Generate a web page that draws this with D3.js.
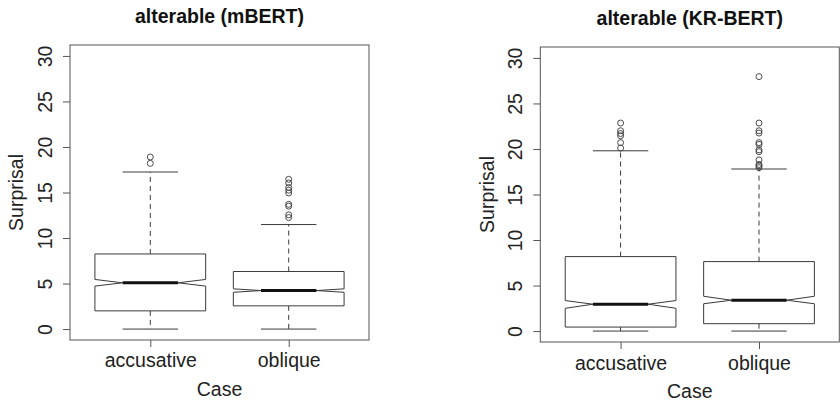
<!DOCTYPE html>
<html>
<head>
<meta charset="utf-8">
<script src="https://cdn.jsdelivr.net/npm/d3@7"></script>
<style>
body { margin: 0; background: #fff; }
text { font-family: "Liberation Sans", Arial, sans-serif; fill: #222; }
</style>
</head>
<body>
<div id="chart"></div>
<script>
// values
var titles = ["alterable (mBERT)", "alterable (KR-BERT)"];
var categories = ["accusative", "oblique"];
var yTicks = [0, 5, 10, 15, 20, 25, 30];

// [lower whisker, Q1, median, Q3, upper whisker]
var mbertStats = [[0, 2.0, 5.08, 8.25, 17.25], [0, 2.55, 4.23, 6.32, 11.48]];
var mbertNotch = [[4.72, 5.45], [4.04, 4.42]];
var mbertOutliers = [[18.2, 18.9], [12.25, 12.55, 13.5, 13.7, 14.95, 15.25, 15.55, 16.05, 16.45]];

var krStats = [[0, 0.44, 2.95, 8.18, 19.8], [0, 0.81, 3.39, 7.63, 17.8]];
var krNotch = [[2.5, 3.35], [3.0, 3.82]];
var krOutliers = [[20.1, 20.7, 21.45, 21.7, 22.0, 22.85],
  [17.95, 18.15, 18.3, 18.8, 19.7, 19.9, 20.5, 20.7, 21.75, 22.0, 22.85, 27.95]];

var W = 840, H = 402;
var fs = "19.5px";
var svg = d3.select("#chart").append("svg").attr("width", W).attr("height", H);

function panel(p) {
  var left = p.left, right = p.left + 299, top = p.top, bottom = p.top + 295;
  var x = d3.scaleLinear().domain([0.42, 2.58]).range([left, right]);
  var y = d3.scaleLinear().domain([-1.2, 31.2]).range([bottom, top]);
  var g = svg.append("g");
  var ink = "#3a3a3a";

  // y axis
  var ya = g.append("g").attr("transform", "translate(" + left + ",0)")
    .call(d3.axisLeft(y).tickValues(yTicks).tickSize(7).tickFormat(d3.format("d")));
  ya.select(".domain").remove();
  ya.selectAll("line").attr("stroke", "#555");
  ya.selectAll("text")
    .attr("x", 0).attr("y", 0).attr("dy", "0.36em")
    .attr("transform", "translate(-25,0) rotate(-90)")
    .attr("text-anchor", "middle")
    .style("font-size", fs).style("fill", "#222");

  // x axis
  var xa = g.append("g").attr("transform", "translate(0," + bottom + ")")
    .call(d3.axisBottom(x).tickValues([1, 2]).tickSize(7)
      .tickFormat(function(d) { return categories[d - 1]; }));
  xa.select(".domain").remove();
  xa.selectAll("line").attr("stroke", "#555");
  xa.selectAll("text").attr("y", 0).attr("dy", 0)
    .attr("transform", "translate(0," + (p.xlab - bottom) + ")")
    .style("font-size", fs).style("fill", "#222");

  // frame
  g.append("rect").attr("x", left).attr("y", top)
    .attr("width", right - left).attr("height", bottom - top)
    .attr("fill", "none").attr("stroke", "#555").attr("stroke-width", 1);

  var bw = 0.8, wn = bw / 4;
  p.stats.forEach(function(s, i) {
    var c = i + 1, n = p.notch[i];
    var b = g.append("g");
    // whiskers
    b.append("line").attr("x1", x(c)).attr("x2", x(c)).attr("y1", y(s[3])).attr("y2", y(s[4]))
      .attr("stroke", ink).attr("stroke-dasharray", "5,4");
    b.append("line").attr("x1", x(c)).attr("x2", x(c)).attr("y1", y(s[1])).attr("y2", y(s[0]))
      .attr("stroke", ink).attr("stroke-dasharray", "5,4");
    [s[0], s[4]].forEach(function(v) {
      b.append("line").attr("x1", x(c - bw / 4)).attr("x2", x(c + bw / 4))
        .attr("y1", y(v)).attr("y2", y(v)).attr("stroke", ink);
    });
    // notched box
    var pts = [
      [c - bw / 2, s[1]], [c - bw / 2, n[0]], [c - wn, s[2]], [c - bw / 2, n[1]], [c - bw / 2, s[3]],
      [c + bw / 2, s[3]], [c + bw / 2, n[1]], [c + wn, s[2]], [c + bw / 2, n[0]], [c + bw / 2, s[1]]
    ];
    b.append("path")
      .attr("d", d3.line().x(function(d) { return x(d[0]); }).y(function(d) { return y(d[1]); })(pts) + "Z")
      .attr("fill", "#fff").attr("stroke", ink).attr("stroke-width", 1);
    b.append("line").attr("x1", x(c - wn)).attr("x2", x(c + wn))
      .attr("y1", y(s[2])).attr("y2", y(s[2])).attr("stroke", "#111").attr("stroke-width", 3);
    // outliers
    b.selectAll("circle").data(p.outliers[i]).enter().append("circle")
      .attr("cx", x(c)).attr("cy", function(d) { return y(d); }).attr("r", 3)
      .attr("fill", "none").attr("stroke", ink).attr("stroke-width", 0.9);
  });

  // labels
  var mid = (left + right) / 2;
  g.append("text").attr("x", mid).attr("y", p.titleY).attr("text-anchor", "middle")
    .style("font-size", fs).style("font-weight", "bold").style("fill", "#111").text(p.title);
  g.append("text").attr("x", mid).attr("y", p.caseY).attr("text-anchor", "middle")
    .style("font-size", fs).text("Case");
  g.append("text").attr("transform", "translate(" + p.ylabX + "," + ((top + bottom) / 2) + ") rotate(-90)")
    .attr("dy", "0.36em").attr("text-anchor", "middle")
    .style("font-size", fs).text("Surprisal");
}

panel({ left: 70, top: 45, title: titles[0], stats: mbertStats, notch: mbertNotch,
  outliers: mbertOutliers, xlab: 367, caseY: 396, titleY: 23, ylabX: 16 });
panel({ left: 540.3, top: 47, title: titles[1], stats: krStats, notch: krNotch,
  outliers: krOutliers, xlab: 369.5, caseY: 397.5, titleY: 25, ylabX: 486.7 });
</script>
</body>
</html>
